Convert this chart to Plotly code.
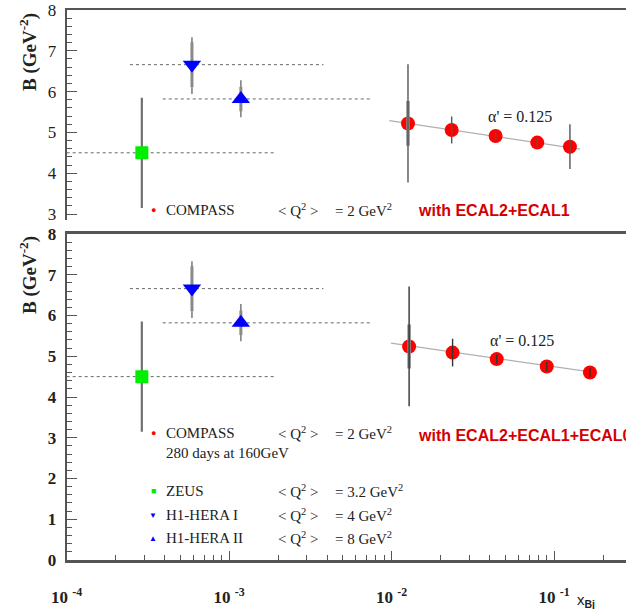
import plotly.graph_objects as go

W, H = 626, 609

# ---------------- data ----------------
# COMPASS with ECAL2+ECAL1 (top panel)
compass_top_x = [0.0126, 0.0234, 0.0436, 0.0787, 0.125]
compass_top_b = [5.22, 5.06, 4.91, 4.75, 4.65]
compass_top_err_tot = [1.45, 0.33, 0.11, 0.11, 0.55]
compass_top_err_stat = [0.55, 0.0, 0.0, 0.0, 0.0]
fit_top_x = [0.00966, 0.1445]
fit_top_b = [5.29, 4.59]

# COMPASS with ECAL2+ECAL1+ECAL0 (bottom panel)
compass_bot_x = [0.0128, 0.0237, 0.0443, 0.090, 0.166]
compass_bot_b = [5.24, 5.09, 4.93, 4.75, 4.60]
compass_bot_err_tot = [1.47, 0.34, 0.11, 0.11, 0.11]
compass_bot_err_stat = [0.54, 0.0, 0.0, 0.0, 0.0]
fit_bot_x = [0.0099, 0.1845]
fit_bot_b = [5.32, 4.59]

# HERA results
zeus_x = [2.9e-4]
zeus_b = [4.5]
zeus_err = [1.35]
zeus_xrange = [1.0e-4, 1.9e-3]

h1i_x = [5.9e-4]
h1i_b = [6.66]
h1i_err_plus = [0.67]
h1i_err_minus = [0.72]
h1i_err_stat = [0.55]
h1i_xrange = [2.45e-4, 3.8e-3]

h1ii_x = [1.18e-3]
h1ii_b = [5.82]
h1ii_err_plus = [0.46]
h1ii_err_minus = [0.45]
h1ii_err_stat = [0.30]
h1ii_xrange = [3.9e-4, 7.5e-3]

alpha_label = "α' = 0.125"
x_major = [1e-4, 1e-3, 1e-2, 1e-1]
x_major_text = ["10 <sup>-4</sup>", "10 <sup>-3</sup>", "10 <sup>-2</sup>", "10 <sup>-1</sup>"]
x_minor = [m * d for d in [1e-4, 1e-3, 1e-2, 1e-1] for m in range(2, 10)]

# ---------------- figure ----------------
fig = go.Figure()
AXC = "#555555"
ERRC = "#7a7a7a"
INVIS = dict(size=1, color="rgba(0,0,0,0)")


def hera_traces(xa, ya):
    tr = []
    for xr, yv in [(zeus_xrange, zeus_b[0]), (h1i_xrange, h1i_b[0]), (h1ii_xrange, h1ii_b[0])]:
        tr.append(go.Scatter(x=xr, y=[yv, yv], mode="lines", xaxis=xa, yaxis=ya,
                             line=dict(color="#666666", width=1, dash="dot"), hoverinfo="skip"))
    # error bars first
    tr.append(go.Scatter(x=zeus_x, y=zeus_b, mode="markers", xaxis=xa, yaxis=ya, marker=INVIS,
                         error_y=dict(type="data", array=zeus_err, color="#707070", thickness=2.2, width=0)))
    tr.append(go.Scatter(x=h1i_x, y=h1i_b, mode="markers", xaxis=xa, yaxis=ya, marker=INVIS,
                         error_y=dict(type="data", array=h1i_err_plus, arrayminus=h1i_err_minus,
                                      color=ERRC, thickness=1.5, width=0)))
    tr.append(go.Scatter(x=h1i_x, y=h1i_b, mode="markers", xaxis=xa, yaxis=ya, marker=INVIS,
                         error_y=dict(type="data", array=h1i_err_stat, color="#8a8a8a", thickness=3, width=0)))
    tr.append(go.Scatter(x=h1ii_x, y=h1ii_b, mode="markers", xaxis=xa, yaxis=ya, marker=INVIS,
                         error_y=dict(type="data", array=h1ii_err_plus, arrayminus=h1ii_err_minus,
                                      color=ERRC, thickness=1.5, width=0)))
    tr.append(go.Scatter(x=h1ii_x, y=h1ii_b, mode="markers", xaxis=xa, yaxis=ya, marker=INVIS,
                         error_y=dict(type="data", array=h1ii_err_stat, color="#8a8a8a", thickness=3, width=0)))
    # markers on top
    tr.append(go.Scatter(x=zeus_x, y=zeus_b, mode="markers", xaxis=xa, yaxis=ya,
                         marker=dict(symbol="square", size=13, color="#00ee00")))
    tr.append(go.Scatter(x=h1i_x, y=h1i_b, mode="markers", xaxis=xa, yaxis=ya,
                         marker=dict(symbol="triangle-down", size=16, color="#0000ff")))
    tr.append(go.Scatter(x=h1ii_x, y=h1ii_b, mode="markers", xaxis=xa, yaxis=ya,
                         marker=dict(symbol="triangle-up", size=16, color="#0000ff")))
    return tr


def compass_traces(xa, ya, cx, cb, etot, estat, fx, fb, ecol):
    tr = []
    tr.append(go.Scatter(x=fx, y=fb, mode="lines", xaxis=xa, yaxis=ya,
                         line=dict(color="#b0b0b0", width=1.2), hoverinfo="skip"))
    tr.append(go.Scatter(x=cx, y=cb, mode="markers", xaxis=xa, yaxis=ya,
                         marker=dict(symbol="circle", size=14, color="#ff0000")))
    tr.append(go.Scatter(x=cx, y=cb, mode="markers", xaxis=xa, yaxis=ya, marker=INVIS,
                         error_y=dict(type="data", array=estat, color="#8a8a8a", thickness=3.5, width=0)))
    tr.append(go.Scatter(x=cx, y=cb, mode="markers", xaxis=xa, yaxis=ya, marker=INVIS,
                         error_y=dict(type="data", array=etot, color=ecol, thickness=1.4, width=0)))
    return tr


for t in hera_traces("x2", "y2"):
    fig.add_trace(t)
for t in compass_traces("x2", "y2", compass_top_x, compass_top_b, compass_top_err_tot,
                        compass_top_err_stat, fit_top_x, fit_top_b, "#555555"):
    fig.add_trace(t)
for t in hera_traces("x", "y"):
    fig.add_trace(t)
for t in compass_traces("x", "y", compass_bot_x, compass_bot_b, compass_bot_err_tot,
                        compass_bot_err_stat, fit_bot_x, fit_bot_b, "#333333"):
    fig.add_trace(t)

# ---------------- axes ----------------
def py(p):
    return 1 - p / H


XR = [-4, -0.558]
XDOM = [66.7 / W, 1.0]
TICKFONT = dict(family="Liberation Serif", size=17, color="#222222")

yaxis_common = dict(
    showline=True, linecolor=AXC, linewidth=2, ticks="inside", ticklen=10,
    tickwidth=1.2, tickcolor=AXC, showgrid=False, zeroline=False,
    tickfont=TICKFONT, tickprefix="<b>", ticksuffix="</b>",
    minor=dict(ticks="inside", ticklen=5, dtick=0.2, tickcolor=AXC, tickwidth=1, showgrid=False),
    ticklabelstandoff=5, automargin=False,
)

fig.update_layout(
    width=W, height=H,
    margin=dict(l=0, r=0, t=0, b=0),
    paper_bgcolor="white", plot_bgcolor="white",
    showlegend=False,
    xaxis=dict(
        type="log", range=XR, domain=XDOM, anchor="y", automargin=False,
        showline=True, linecolor=AXC, linewidth=3, mirror=True,
        ticks="inside", ticklen=9, tickwidth=1.2, tickcolor=AXC,
        tickmode="array", tickvals=x_major,
        ticktext=["<b>" + s.replace("<sup>", "<sup><b>").replace("</sup>", "</b></sup>") + "</b>" for s in x_major_text],
        tickfont=TICKFONT, showgrid=False, zeroline=False,
        minor=dict(ticks="inside", ticklen=5, tickvals=x_minor, tickcolor=AXC, tickwidth=1, showgrid=False),
        ticklabelstandoff=20,
    ),
    yaxis=dict(range=[0, 8], domain=[py(560), py(234)], anchor="x", dtick=1, **yaxis_common),
    xaxis2=dict(
        type="log", range=XR, domain=XDOM, anchor="y2", side="top", automargin=False,
        showline=True, linecolor=AXC, linewidth=2, ticks="", showticklabels=False,
        showgrid=False, zeroline=False,
    ),
    yaxis2=dict(range=[2.853, 8], domain=[py(220), py(10)], anchor="x2",
                tickmode="array", tickvals=[3, 4, 5, 6, 7, 8], **yaxis_common),
)

# ---------------- text ----------------
SERIF = "Liberation Serif"
SANS = "Liberation Sans"


def ann(px, pyy, text, size=15, color="#222222", family=SERIF, xanchor="left", yanchor="middle", angle=0):
    fig.add_annotation(x=px / W, y=py(pyy), xref="paper", yref="paper", text=text,
                       showarrow=False, xanchor=xanchor, yanchor=yanchor, textangle=angle,
                       font=dict(family=family, size=size, color=color))


ann(28, 52, "<b>B (GeV<sup>-2</sup>)</b>", size=19, xanchor="center", angle=-90)
ann(28, 275, "<b>B (GeV<sup>-2</sup>)</b>", size=19, xanchor="center", angle=-90)
ann(586, 600, "x<sub><b>Bj</b></sub>", size=15, family=SANS, xanchor="center")

ann(486, 116, alpha_label, size=16)
ann(488, 340, alpha_label, size=16)

RED = "#ff0000"
ann(153, 210, "●", size=9, color=RED, xanchor="center")
ann(164, 210, "COMPASS")
ann(276, 210, "&lt; Q<sup>2</sup> &gt;")
ann(333, 210, "= 2 GeV<sup>2</sup>")
ann(416, 210, "<b>with ECAL2+ECAL1</b>", size=16, color="#d40000", family=SANS)

rows = [
    (433, "●", 9, RED, "COMPASS", "= 2 GeV<sup>2</sup>"),
    (491, "■", 9, "#00ee00", "ZEUS", "= 3.2 GeV<sup>2</sup>"),
    (515, "▼", 8, "#0000ff", "H1-HERA I", "= 4 GeV<sup>2</sup>"),
    (538, "▲", 8, "#0000ff", "H1-HERA II", "= 8 GeV<sup>2</sup>"),
]
for yy, sym, ss, col, name, q in rows:
    ann(153, yy, sym, size=ss, color=col, xanchor="center")
    ann(164, yy, name)
    ann(276, yy, "&lt; Q<sup>2</sup> &gt;")
    ann(333, yy, q)
ann(164, 453, "280 days at 160GeV")
ann(416, 435, "<b>with ECAL2+ECAL1+ECAL0</b>", size=16, color="#d40000", family=SANS)

fig.write_html("out.html")
